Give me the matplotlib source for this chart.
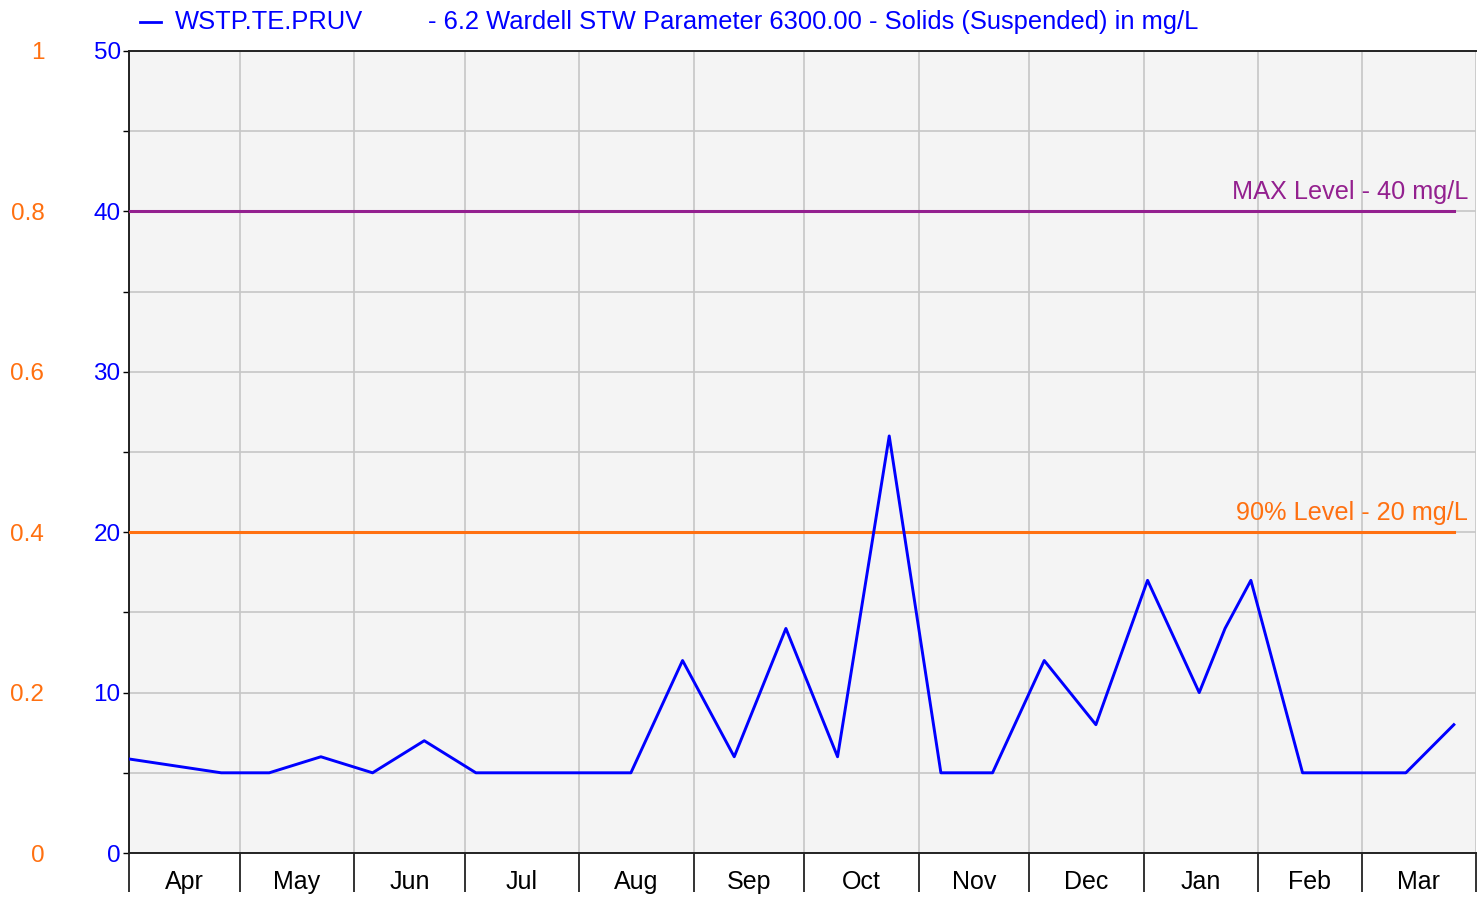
import datetime as dt
import matplotlib
matplotlib.use("Agg")
import matplotlib.pyplot as plt
import matplotlib.dates as mdates
from matplotlib.ticker import MultipleLocator, FixedLocator

plt.rcParams['font.family'] = ['Liberation Sans', 'DejaVu Sans']

# sample dates and suspended solids (mg/L)
dates = [
    "2022-03-28", "2022-04-26", "2022-05-09", "2022-05-23", "2022-06-06",
    "2022-06-20", "2022-07-04", "2022-07-18", "2022-08-01", "2022-08-15",
    "2022-08-29", "2022-09-12", "2022-09-26", "2022-10-10", "2022-10-24",
    "2022-11-07", "2022-11-21", "2022-12-05", "2022-12-19", "2023-01-02",
    "2023-01-16", "2023-01-23", "2023-01-30", "2023-02-13", "2023-02-27",
    "2023-03-13", "2023-03-26",
]
solids = [6, 5, 5, 6, 5, 7, 5, 5, 5, 5, 12, 6, 14, 6, 26, 5, 5, 12, 8, 17,
          10, 14, 17, 5, 5, 5, 8]

max_level = 40
pct90_level = 20
months = ["Apr", "May", "Jun", "Jul", "Aug", "Sep", "Oct", "Nov", "Dec",
          "Jan", "Feb", "Mar"]

x = [dt.datetime.strptime(d, "%Y-%m-%d") for d in dates]
start = dt.datetime(2022, 4, 1)
end = dt.datetime(2023, 4, 1)

BLUE = "#0000ff"
ORANGE = "#ff7010"
PURPLE = "#93208f"

fig = plt.figure(figsize=(14.77, 8.99), dpi=100)
ax = fig.add_axes([129 / 1477, 1 - 853 / 899, (1476 - 129) / 1477, (853 - 51) / 899])
ax.set_facecolor("#f4f4f4")

ax.plot(x, solids, color=BLUE, lw=2.1, zorder=4)
ax.plot([start, x[-1]], [max_level, max_level], color=PURPLE, lw=2.2, zorder=3)
ax.plot([start, x[-1]], [pct90_level, pct90_level], color=ORANGE, lw=2.2, zorder=3)
ax.annotate("MAX Level - 40 mg/L", xy=(1468 / 1477, max_level), xycoords=("figure fraction", "data"),
            xytext=(0, 5), textcoords="offset points", ha="right", va="bottom",
            color=PURPLE, fontsize=18.2)
ax.annotate("90% Level - 20 mg/L", xy=(1468 / 1477, pct90_level), xycoords=("figure fraction", "data"),
            xytext=(0, 5), textcoords="offset points", ha="right", va="bottom",
            color=ORANGE, fontsize=18.2)

ax.set_xlim(start, end)
ax.set_ylim(0, 50)

# month boundaries as major ticks, labels in the middle of each month
bounds = [dt.datetime(2022 + (3 + i) // 12, (3 + i) % 12 + 1, 1) for i in range(13)]
mids = [bounds[i] + (bounds[i + 1] - bounds[i]) / 2 for i in range(12)]
ax.xaxis.set_major_locator(FixedLocator(mdates.date2num(bounds)))
ax.xaxis.set_minor_locator(FixedLocator(mdates.date2num(mids)))
ax.xaxis.set_major_formatter(plt.NullFormatter())
ax.xaxis.set_minor_formatter(plt.FixedFormatter(months))
ax.tick_params(axis="x", which="major", length=28, width=1.4, color="#333333")
ax.tick_params(axis="x", which="minor", length=0, pad=12, labelsize=18)

ax.yaxis.set_major_locator(MultipleLocator(10))
ax.yaxis.set_minor_locator(MultipleLocator(5))
ax.tick_params(axis="y", which="both", length=4.5, width=1, pad=1.5,
               labelsize=17.5, labelcolor=BLUE)

ax.grid(True, which="major", axis="x", color="#c6c6c6", lw=1.2)
ax.grid(True, which="both", axis="y", color="#c6c6c6", lw=1.2)
ax.set_axisbelow(True)

for s in ["left", "top", "bottom"]:
    ax.spines[s].set_color("#222222")
    ax.spines[s].set_linewidth(1.4)
ax.spines["right"].set_visible(False)

# secondary (orange) scale on the far left
ax2 = ax.twinx()
ax2.set_ylim(0, 1)
ax2.yaxis.set_ticks_position("left")
ax2.spines["left"].set_position(("outward", 58))
for s in ax2.spines.values():
    s.set_visible(False)
ax2.tick_params(axis="y", length=0, pad=3, labelsize=17.5, labelcolor=ORANGE)
ax2.set_yticks([0, 0.2, 0.4, 0.6, 0.8, 1.0])
ax2.set_yticklabels(["0", "0.2", "0.4", "0.6", "0.8", "1"])

# legend line at the top
fig.add_artist(plt.Line2D([140 / 1477, 161 / 1477], [1 - 22 / 899, 1 - 22 / 899], color=BLUE, lw=2))
fig.text(175 / 1477, 1 - 22 / 899, "WSTP.TE.PRUV", color=BLUE, fontsize=18.4, va="center")
fig.text(428 / 1477, 1 - 22 / 899,
         "- 6.2 Wardell STW Parameter 6300.00 - Solids (Suspended) in mg/L",
         color=BLUE, fontsize=18.4, va="center")

fig.savefig("out.png", dpi=100)
